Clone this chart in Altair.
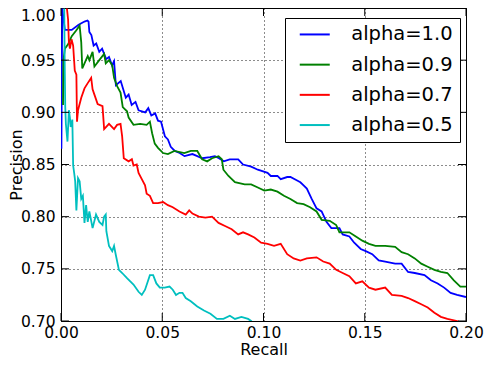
import altair as alt
import pandas as pd

# ---- data ----
series_names = ["alpha=1.0", "alpha=0.9", "alpha=0.7", "alpha=0.5"]
series_colors = ["#0000ff", "#008000", "#ff0000", "#00bfbf"]

recall_a10 = [0.0002, 0.0006, 0.0019, 0.0053, 0.0087, 0.0116, 0.0131, 0.0136, 0.0140, 0.0150,
              0.0161, 0.0174, 0.0189, 0.0203, 0.0223, 0.0237, 0.0252, 0.0262, 0.0271, 0.0295,
              0.0320, 0.0334, 0.0349, 0.0368, 0.0383, 0.0416, 0.0431, 0.0446, 0.0465, 0.0479,
              0.0494, 0.0513, 0.0528, 0.0542, 0.0562, 0.0586, 0.0610, 0.0649, 0.0673, 0.0697,
              0.0736, 0.0760, 0.0780, 0.0804, 0.0833, 0.0875, 0.0899, 0.0939, 0.0972, 0.1020,
              0.1036, 0.1069, 0.1085, 0.1117, 0.1133, 0.1173, 0.1182, 0.1198, 0.1214, 0.1238,
              0.1262, 0.1287, 0.1311, 0.1335, 0.1375, 0.1391, 0.1424, 0.1448, 0.1480, 0.1505,
              0.1537, 0.1569, 0.1601, 0.1650, 0.1682, 0.1714, 0.1747, 0.1795, 0.1827, 0.1860,
              0.1892, 0.1924, 0.1956, 0.2000]
precision_a10 = [0.865, 1.000, 0.979, 0.979, 0.984, 0.987, 0.988, 0.987, 0.977, 0.974,
                 0.964, 0.966, 0.958, 0.961, 0.951, 0.953, 0.945, 0.949, 0.926, 0.930,
                 0.914, 0.917, 0.907, 0.910, 0.902, 0.900, 0.904, 0.897, 0.899, 0.892,
                 0.891, 0.877, 0.874, 0.867, 0.863, 0.861, 0.858, 0.860, 0.858, 0.856,
                 0.857, 0.858, 0.856, 0.853, 0.855, 0.855, 0.850, 0.848, 0.845, 0.842,
                 0.839, 0.839, 0.836, 0.838, 0.838, 0.834, 0.833, 0.830, 0.827, 0.817,
                 0.808, 0.805, 0.795, 0.789, 0.789, 0.783, 0.781, 0.775, 0.769, 0.767,
                 0.764, 0.758, 0.757, 0.755, 0.755, 0.747, 0.746, 0.744, 0.739, 0.736,
                 0.732, 0.727, 0.725, 0.723]

recall_a09 = [0.0010, 0.0012, 0.0019, 0.0034, 0.0053, 0.0073, 0.0092, 0.0100, 0.0105, 0.0116,
              0.0132, 0.0140, 0.0156, 0.0165, 0.0189, 0.0213, 0.0221, 0.0237, 0.0253, 0.0262,
              0.0277, 0.0294, 0.0305, 0.0326, 0.0334, 0.0358, 0.0391, 0.0423, 0.0439, 0.0450,
              0.0463, 0.0479, 0.0504, 0.0528, 0.0560, 0.0609, 0.0641, 0.0673, 0.0697, 0.0722,
              0.0746, 0.0778, 0.0794, 0.0802, 0.0827, 0.0859, 0.0907, 0.0939, 0.0972, 0.1004,
              0.1036, 0.1069, 0.1101, 0.1133, 0.1166, 0.1198, 0.1230, 0.1262, 0.1287, 0.1327,
              0.1359, 0.1375, 0.1424, 0.1456, 0.1488, 0.1521, 0.1553, 0.1601, 0.1650, 0.1682,
              0.1714, 0.1747, 0.1779, 0.1811, 0.1844, 0.1876, 0.1908, 0.1940, 0.1972, 0.2000]
precision_a09 = [0.907, 0.950, 0.961, 0.965, 0.973, 0.978, 0.983, 0.967, 0.942, 0.947,
                 0.954, 0.950, 0.958, 0.944, 0.950, 0.956, 0.947, 0.950, 0.945, 0.933,
                 0.925, 0.919, 0.905, 0.901, 0.895, 0.888, 0.889, 0.888, 0.891, 0.880,
                 0.870, 0.866, 0.861, 0.860, 0.863, 0.861, 0.863, 0.863, 0.855, 0.853,
                 0.856, 0.858, 0.855, 0.845, 0.839, 0.833, 0.831, 0.831, 0.828, 0.825,
                 0.826, 0.824, 0.820, 0.817, 0.813, 0.812, 0.809, 0.805, 0.797, 0.796,
                 0.792, 0.785, 0.785, 0.781, 0.777, 0.774, 0.772, 0.772, 0.771, 0.766,
                 0.764, 0.760, 0.755, 0.752, 0.749, 0.747, 0.746, 0.739, 0.733, 0.733]

recall_a07 = [0.0029, 0.0035, 0.0039, 0.0044, 0.0052, 0.0060, 0.0068, 0.0076, 0.0079, 0.0084,
              0.0100, 0.0116, 0.0132, 0.0149, 0.0156, 0.0165, 0.0181, 0.0205, 0.0213, 0.0237,
              0.0262, 0.0277, 0.0294, 0.0302, 0.0310, 0.0334, 0.0350, 0.0358, 0.0374, 0.0383,
              0.0399, 0.0415, 0.0423, 0.0439, 0.0455, 0.0479, 0.0504, 0.0528, 0.0552, 0.0585,
              0.0616, 0.0633, 0.0649, 0.0681, 0.0713, 0.0746, 0.0778, 0.0810, 0.0843, 0.0875,
              0.0899, 0.0924, 0.0955, 0.0988, 0.1020, 0.1052, 0.1085, 0.1117, 0.1149, 0.1182,
              0.1214, 0.1262, 0.1295, 0.1327, 0.1359, 0.1391, 0.1424, 0.1456, 0.1488, 0.1521,
              0.1553, 0.1601, 0.1634, 0.1682, 0.1714, 0.1747, 0.1779, 0.1811, 0.1844, 0.1876,
              0.1908, 0.1956, 0.1981]
precision_a07 = [1.000, 0.989, 0.967, 0.961, 0.970, 0.964, 0.940, 0.936, 0.891, 0.902,
                 0.914, 0.923, 0.928, 0.933, 0.922, 0.917, 0.908, 0.906, 0.884, 0.889,
                 0.884, 0.888, 0.889, 0.877, 0.856, 0.853, 0.855, 0.849, 0.850, 0.842,
                 0.836, 0.830, 0.822, 0.820, 0.813, 0.813, 0.814, 0.811, 0.809, 0.805,
                 0.802, 0.806, 0.803, 0.800, 0.799, 0.800, 0.794, 0.791, 0.788, 0.783,
                 0.785, 0.783, 0.780, 0.775, 0.774, 0.772, 0.774, 0.764, 0.760, 0.758,
                 0.760, 0.761, 0.757, 0.755, 0.749, 0.746, 0.743, 0.736, 0.738, 0.732,
                 0.730, 0.732, 0.725, 0.724, 0.722, 0.719, 0.716, 0.713, 0.708, 0.704,
                 0.702, 0.700, 0.698]

recall_a05 = [0.0016, 0.0018, 0.0021, 0.0024, 0.0032, 0.0039, 0.0044, 0.0048, 0.0056, 0.0060,
              0.0065, 0.0070, 0.0076, 0.0084, 0.0092, 0.0100, 0.0108, 0.0116, 0.0124, 0.0132,
              0.0140, 0.0156, 0.0173, 0.0189, 0.0205, 0.0213, 0.0221, 0.0224, 0.0237, 0.0253,
              0.0262, 0.0270, 0.0286, 0.0302, 0.0326, 0.0342, 0.0358, 0.0383, 0.0399, 0.0415,
              0.0439, 0.0455, 0.0471, 0.0488, 0.0512, 0.0536, 0.0552, 0.0568, 0.0585, 0.0600,
              0.0616, 0.0641, 0.0673, 0.0706, 0.0738, 0.0770, 0.0802, 0.0834, 0.0859, 0.0891,
              0.0924, 0.0939, 0.0954]
precision_a05 = [1.000, 0.951, 0.905, 0.889, 0.872, 0.902, 0.895, 0.886, 0.893, 0.849,
                 0.842, 0.834, 0.806, 0.837, 0.834, 0.817, 0.820, 0.794, 0.811, 0.795,
                 0.805, 0.789, 0.802, 0.795, 0.792, 0.800, 0.802, 0.786, 0.772, 0.767,
                 0.772, 0.764, 0.749, 0.746, 0.741, 0.738, 0.735, 0.728, 0.725, 0.730,
                 0.744, 0.744, 0.736, 0.732, 0.732, 0.733, 0.730, 0.725, 0.727, 0.727,
                 0.722, 0.719, 0.714, 0.710, 0.707, 0.702, 0.702, 0.705, 0.702, 0.704,
                 0.702, 0.700, 0.697]

x_ticks = [0.00, 0.05, 0.10, 0.15, 0.20]
y_ticks = [0.70, 0.75, 0.80, 0.85, 0.90, 0.95, 1.00]

rows = []
for order, (name, rs, ps) in enumerate(zip(
        series_names,
        [recall_a10, recall_a09, recall_a07, recall_a05],
        [precision_a10, precision_a09, precision_a07, precision_a05])):
    for i, (r, p) in enumerate(zip(rs, ps)):
        rows.append({"series": name, "order": order, "i": i, "recall": r, "precision": p})
df = pd.DataFrame(rows)

W, H = 405, 313
FONT = "DejaVu Sans"

xscale = alt.Scale(domain=[0, 0.2], nice=False, zero=False)
yscale = alt.Scale(domain=[0.7, 1.0], nice=False, zero=False)

lines = alt.Chart(df).mark_line(clip=True, strokeWidth=1.8, interpolate="linear").encode(
    x=alt.X("recall:Q", scale=xscale,
            axis=alt.Axis(values=x_ticks, format=".2f", title="Recall",
                          labelFlush=False, labelOverlap=False,
                          titleY=33, titleBaseline="alphabetic")),
    y=alt.Y("precision:Q", scale=yscale,
            axis=alt.Axis(values=y_ticks, format=".2f", title="Precision",
                          labelFlush=False, labelOverlap=False,
                          labelBaseline={"condition": {"test": "datum.value >= 0.999",
                                                       "value": "top"},
                                         "value": "middle"},
                          titleAngle=270, titleX=-40, titleY=H / 2,
                          titleAlign="center", titleBaseline="alphabetic")),
    color=alt.Color("series:N",
                    scale=alt.Scale(domain=series_names, range=series_colors),
                    sort=series_names,
                    legend=alt.Legend(
                        title=None, orient="none", legendX=224, legendY=10,
                        symbolType="M-1.875,0H1.875", symbolSize=256,
                        symbolStrokeWidth=2, labelFontSize=19.5, labelFont=FONT,
                        labelColor="black", rowPadding=9.2, padding=6.7,
                        symbolOffset=13.3, labelOffset=26.7,
                        strokeColor="black", fillColor="white")),
    detail="series:N",
    order="i:Q",
)

xt = pd.DataFrame({"v": x_ticks})
yt = pd.DataFrame({"v": y_ticks})
TL = 8
tick_style = dict(color="black", strokeWidth=1)
xt_bottom = alt.Chart(xt).mark_rule(**tick_style).encode(
    x=alt.X("v:Q", scale=xscale), y=alt.value(H), y2=alt.value(H - TL))
xt_top = alt.Chart(xt).mark_rule(**tick_style).encode(
    x=alt.X("v:Q", scale=xscale), y=alt.value(0), y2=alt.value(TL))
yt_left = alt.Chart(yt).mark_rule(**tick_style).encode(
    y=alt.Y("v:Q", scale=yscale), x=alt.value(0), x2=alt.value(TL))
yt_right = alt.Chart(yt).mark_rule(**tick_style).encode(
    y=alt.Y("v:Q", scale=yscale), x=alt.value(W), x2=alt.value(W - TL))

chart = alt.layer(lines, xt_bottom, xt_top, yt_left, yt_right).properties(
    width=W, height=H,
    background="white",
    autosize=alt.AutoSizeParams(type="none"),
    padding={"left": 53, "top": 0, "right": 18, "bottom": 37},
).configure_view(
    stroke="black", strokeWidth=1
).configure_axis(
    grid=True, gridColor="black", gridDash=[1, 3], gridWidth=1, gridOpacity=0.9,
    domain=False, ticks=False,
    labelFont=FONT, labelFontSize=15.5, labelColor="black",
    titleFont=FONT, titleFontSize=16, titleFontWeight="normal", titleColor="black",
).configure_axisX(
    labelPadding=4
).configure_axisY(
    labelPadding=6
)

chart.save("out.html", embed_options={"renderer": "svg", "actions": False})
